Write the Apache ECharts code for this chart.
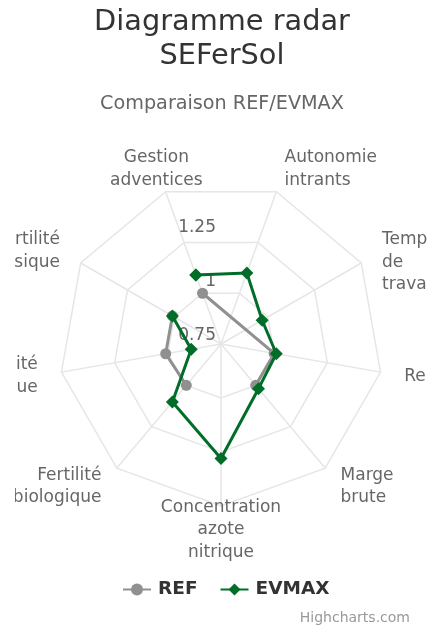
<!DOCTYPE html>
<html>
<head>
<meta charset="utf-8">
<title>Diagramme radar SEFerSol</title>
<script src="https://cdn.jsdelivr.net/npm/echarts@6/dist/echarts.min.js"></script>
<style>
  html, body { margin: 0; padding: 0; background: #fff; }
  #chart { width: 430px; height: 628px; }
</style>
</head>
<body>
<div id="chart"></div>
<script>
const categories = [
  'Gestion adventices',
  'Autonomie intrants',
  'Temps de travail',
  'Rendement',
  'Marge brute',
  'Concentration azote nitrique',
  'Fertilité biologique',
  'Fertilité chimique',
  'Fertilité physique'
]
// null = pas de valeur
const refValues = [1.0, null, null, 1.0, 1.0, null, 1.0, 1.01, 1.01]
const evmaxValues = [1.09, 1.10, 0.97, 1.01, 1.02, 1.28, 1.10, 0.89, 1.01]
const radiusTicks = [0.75, 1, 1.25, 1.5]

const FONT = 'DejaVu Sans, sans-serif'
const center = [221, 344]
const radius = 162
const firstAngle = -20 // clockwise from north
const startAngle = 90 - firstAngle // echarts: counterclockwise from east
const step = 360 / categories.length
const rMin = radiusTicks[0]
const rMax = radiusTicks[radiusTicks.length - 1]
const rStep = radiusTicks[1] - radiusTicks[0]

function labelAngle(name) {
  return ((firstAngle + step * categories.indexOf(name)) % 360 + 360) % 360
}

// labels close to vertical are centred
function isCentred(name) {
  let a = labelAngle(name)
  return a > 335 || a < 15 || Math.abs(a - 180) < 15
}

function closedPath(values) {
  let pts = values.map((v, i) => [v, i])
  return pts.concat([pts[0]])
}

// begins after the last missing value, missing ones are skipped
function openPath(values) {
  let start = values.lastIndexOf(null) + 1
  let out = []
  for (let k = 0; k < values.length; k++) {
    let i = (start + k) % values.length
    if (values[i] != null) out.push([values[i], i])
  }
  return out
}

// radar indicators run counterclockwise
let indicators = [categories[0]].concat(categories.slice(1).reverse())
  .map(name => ({ name: name, min: rMin, max: rMax }))

let myChart = echarts.init(document.getElementById('chart'))
let option = {
  animation: false,
  textStyle: { fontFamily: FONT },
  title: [{
    text: 'Diagramme radar\nSEFerSol',
    left: 222,
    textAlign: 'center',
    top: 6,
    padding: 0,
    textStyle: { fontSize: 28.8, fontWeight: 'normal', color: '#333333', lineHeight: 34, fontFamily: FONT }
  }, {
    text: 'Comparaison REF/EVMAX',
    left: 222,
    textAlign: 'center',
    top: 93,
    padding: 0,
    textStyle: { fontSize: 19.2, fontWeight: 'normal', color: '#666666', lineHeight: 22, fontFamily: FONT }
  }, {
    text: 'Highcharts.com',
    right: 20,
    top: 611,
    padding: 0,
    textStyle: { fontSize: 14, fontWeight: 'normal', color: '#999999', fontFamily: FONT }
  }],
  legend: {
    data: ['REF', 'EVMAX'],
    left: 122,
    top: 580,
    padding: 0,
    itemWidth: 28,
    itemHeight: 15,
    itemGap: 22,
    textStyle: { fontSize: 18.5, fontWeight: 'bold', color: '#333333', fontFamily: FONT, padding: [0, 0, 0, 2] }
  },
  radar: {
    center: center,
    radius: radius,
    startAngle: startAngle,
    shape: 'polygon',
    splitNumber: radiusTicks.length - 1,
    indicator: indicators,
    axisNameGap: 24,
    axisName: {
      color: '#666666',
      fontSize: 17,
      lineHeight: 22.5,
      fontFamily: FONT,
      verticalAlign: 'middle',
      formatter: function (name) {
        let words = name.split(' ')
        if (isCentred(name)) {
          return words.map(w => '{c|' + w + '}').join('\n')
        }
        // side labels are placed by their first two lines
        if (words.length > 2) words.unshift('')
        return words.join('\n')
      },
      rich: {
        c: { width: 2, align: 'center', color: '#666666', fontSize: 17, lineHeight: 22.5, fontFamily: FONT }
      }
    },
    splitLine: { lineStyle: { color: '#e6e6e6', width: 1.5 } },
    splitArea: { show: false },
    axisLine: { lineStyle: { color: '#e6e6e6', width: 1.5 } },
    axisTick: { show: false },
    axisLabel: { show: false }
  },
  polar: [
    { center: center, radius: radius },
    { center: center, radius: radius }
  ],
  angleAxis: [{
    polarIndex: 0,
    type: 'category',
    data: categories,
    startAngle: startAngle,
    clockwise: true,
    boundaryGap: false,
    show: false
  }, {
    polarIndex: 1,
    type: 'value',
    min: 0,
    max: 360,
    startAngle: 90,
    show: false
  }],
  radiusAxis: [{
    polarIndex: 0,
    min: rMin,
    max: rMax,
    interval: rStep,
    show: false
  }, {
    polarIndex: 1,
    min: rMin,
    max: rMax,
    interval: rStep,
    axisLine: { show: false },
    axisTick: { show: false },
    splitLine: { show: false },
    axisLabel: {
      showMaxLabel: false,
      margin: 5,
      verticalAlign: 'bottom',
      color: '#666666',
      fontSize: 17,
      fontFamily: FONT
    }
  }],
  // the chart area is clipped a little inside the page edges
  graphic: [
    { type: 'rect', left: 0, top: 0, z: 100, shape: { width: 15, height: 628 }, style: { fill: '#ffffff' } },
    { type: 'rect', right: 0, top: 0, z: 100, shape: { width: 3, height: 628 }, style: { fill: '#ffffff' } }
  ],
  series: [{
    name: 'REF',
    type: 'line',
    coordinateSystem: 'polar',
    polarIndex: 0,
    data: openPath(refValues),
    symbol: 'circle',
    symbolSize: 11,
    lineStyle: { width: 3, color: '#909090' },
    itemStyle: { color: '#909090' },
    z: 2
  }, {
    name: 'EVMAX',
    type: 'line',
    coordinateSystem: 'polar',
    polarIndex: 0,
    data: closedPath(evmaxValues),
    symbol: 'diamond',
    symbolSize: 13,
    lineStyle: { width: 3, color: '#006e28' },
    itemStyle: { color: '#006e28' },
    z: 3
  }]
}
myChart.setOption(option)
</script>
</body>
</html>
